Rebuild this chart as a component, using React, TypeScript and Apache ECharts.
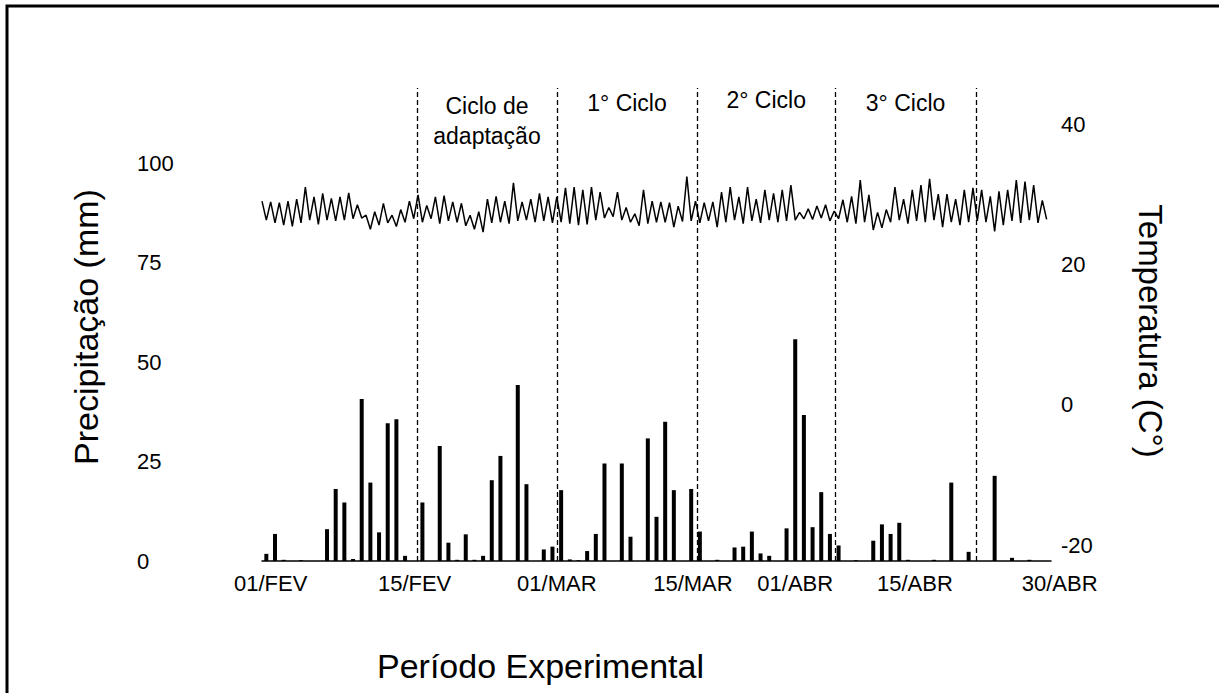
import React, { useEffect, useRef } from "react";
import * as echarts from "echarts";

// ---------- data ----------
// daily precipitation (mm), 91 days from 01/FEV
const precipitation: number[] = [
  1.8, 6.8, 0.3, 0, 0.2, 0, 0, 8.0, 18.1, 14.7,
  0.5, 40.7, 19.7, 7.2, 34.6, 35.6, 1.3, 0, 14.7, 0,
  28.9, 4.6, 0.3, 6.7, 0.3, 1.3, 20.3, 26.4, 0, 44.2,
  19.3, 0, 2.9, 3.6, 17.8, 0.4, 0.2, 2.5, 6.8, 24.5,
  0, 24.5, 6.1, 0, 30.8, 11.1, 35.0, 17.8, 0, 18.1,
  7.4, 0, 0.3, 0, 3.4, 3.6, 7.4, 1.9, 1.3, 0,
  8.2, 55.7, 36.7, 8.5, 17.3, 6.8, 3.9, 0, 0.2, 0,
  5.1, 9.2, 6.8, 9.6, 0.3, 0, 0, 0.3, 0, 19.7,
  0, 2.3, 0, 0, 21.4, 0, 0.8, 0, 0.3, 0,
  0,
];

// daily maximum and minimum temperature (°C)
const tempMax: number[] = [
  29.0, 28.9, 28.8, 29.0,
  29.3, 31.0, 29.6, 30.1, 29.4, 29.6, 30.2, 28.5,
  27.0, 27.5, 28.7, 27.0, 27.8, 29.0,
  29.9, 28.4, 29.6, 29.8, 28.9, 28.7, 27.0, 27.5, 29.3, 29.7, 29.0, 31.6, 28.9, 29.3, 30.1, 29.6,
  29.6, 30.9, 31.0, 30.6, 31.0, 30.3, 28.1, 30.3, 28.1, 27.2, 30.6, 29.0,
  28.9, 28.8, 28.3, 32.5, 29.0, 28.8, 28.9, 30.3, 31.0, 29.6, 31.0, 29.3, 30.6, 30.1, 30.6,
  31.3, 27.4, 27.9, 28.3, 28.5, 27.6, 29.2, 29.7, 32.0, 29.9, 27.4, 27.8, 31.0, 29.3, 30.6,
  31.3, 32.2, 30.0, 30.0, 29.3, 30.6, 30.9, 30.6, 29.7, 30.4, 30.6, 32.0, 31.8, 31.3, 29.1,
];
const tempMin: number[] = [
  26.3, 25.9, 25.6, 25.4,
  25.9, 26.3, 25.7, 26.3, 26.2, 26.3, 26.5, 26.6,
  25.0, 25.6, 25.9, 25.4, 26.0, 26.5,
  26.0, 26.5, 25.8, 26.2, 26.0, 25.5, 25.0, 24.6, 25.9, 26.0, 25.8, 26.2, 26.3, 26.0, 26.2, 25.9,
  26.0, 25.8, 25.6, 25.7, 26.3, 26.6, 26.8, 26.3, 26.0, 25.5, 25.8, 26.0,
  26.0, 25.3, 26.1, 26.2, 25.9, 26.2, 25.3, 26.0, 26.3, 25.8, 26.2, 25.9, 26.3, 26.0, 26.2,
  26.3, 26.5, 26.4, 26.6, 26.2, 26.5, 26.0, 25.8, 26.0, 24.9, 25.2, 26.0, 26.3, 25.8, 26.2,
  26.0, 26.3, 25.3, 26.0, 25.6, 26.0, 26.2, 26.0, 24.7, 25.6, 26.2, 25.9, 26.3, 25.9, 26.4,
];

// date tick labels and where they sit (in day units along the axis)
const dateLabels: string[] = ["01/FEV", "15/FEV", "01/MAR", "15/MAR", "01/ABR", "15/ABR", "30/ABR"];
const dateLabelPos: number[] = [1.0, 17.6, 34.0, 49.7, 61.5, 75.3, 92.0];

// experimental cycles and their boundaries (day units)
const cycleNames: string[] = ["Ciclo de\nadaptação", "1° Ciclo", "2° Ciclo", "3° Ciclo"];
const cycleBounds: number[] = [17.9, 34.0, 50.2, 66.1, 82.35];

const precipTicks = { min: 0, max: 100, interval: 25 };
const tempTicks = { min: -20, max: 40, interval: 20 };

// ---------- layout ----------
const W = 1219;
const H = 693;
const AX_LEFT = 262;
const AX_RIGHT = 1051;
const AX_BOTTOM = 561;
const N_DAYS = precipitation.length;
const DAY_PX = (AX_RIGHT - AX_LEFT) / N_DAYS;
const OV_RIGHT = 1095;
const OV_MAX = (OV_RIGHT - AX_LEFT) / DAY_PX;
const CYCLE_LABEL_DY = [3, 0, -3, 0];
const FONT = '"Liberation Sans", Arial, Helvetica, sans-serif';

export default function App() {
  const ref = useRef<HTMLDivElement>(null);

  useEffect(() => {
    document.body.style.margin = "0";
    if (!ref.current) return;
    const chart = echarts.init(ref.current, null, { renderer: "svg" });

    const days = precipitation.map((_, i) => String(i + 1));
    const tempPoints: [number, number][] = [];
    tempMax.forEach((mx, i) => {
      tempPoints.push([i, mx]);
      tempPoints.push([i + 0.5, tempMin[i]]);
    });

    const option: any = {
      animation: false,
      backgroundColor: "#fff",
      textStyle: { fontFamily: FONT, color: "#000" },
      title: {
        text: "Período Experimental",
        left: 372,
        top: 644,
        textStyle: { fontFamily: FONT, fontSize: 34, fontWeight: "normal", color: "#000" },
      },
      grid: [
        { left: AX_LEFT, right: W - AX_RIGHT, top: 163, bottom: H - AX_BOTTOM },
        { left: AX_LEFT, right: W - AX_RIGHT, top: 124, bottom: 148 },
        { left: AX_LEFT, right: W - OV_RIGHT, top: 88, bottom: H - AX_BOTTOM },
      ],
      xAxis: [
        {
          type: "category",
          gridIndex: 0,
          data: days,
          axisLine: { lineStyle: { color: "#000", width: 1.5 } },
          axisTick: { show: false },
          axisLabel: { show: false },
          splitLine: { show: false },
        },
        { type: "value", gridIndex: 1, min: 0, max: N_DAYS, show: false },
        {
          type: "value",
          gridIndex: 2,
          min: 0,
          max: OV_MAX,
          axisLine: { show: false },
          axisTick: { show: false },
          splitLine: { show: false },
          axisLabel: {
            customValues: dateLabelPos,
            formatter: (v: number) => {
              const k = dateLabelPos.indexOf(v);
              return k >= 0 ? dateLabels[k] : "";
            },
            fontFamily: FONT,
            fontSize: 22,
            color: "#000",
            margin: 11,
          },
        },
      ],
      yAxis: [
        {
          type: "value",
          gridIndex: 0,
          ...precipTicks,
          axisLine: { show: false },
          axisTick: { show: false },
          splitLine: { show: false },
          axisLabel: { align: "left", margin: 125, fontFamily: FONT, fontSize: 22, color: "#000" },
        },
        {
          type: "value",
          gridIndex: 1,
          position: "right",
          ...tempTicks,
          axisLine: { show: false },
          axisTick: { show: false },
          splitLine: { show: false },
          axisLabel: { margin: 10, fontFamily: FONT, fontSize: 22, color: "#000" },
        },
        { type: "value", gridIndex: 2, min: 0, max: 1, show: false },
      ],
      series: [
        {
          type: "bar",
          xAxisIndex: 0,
          yAxisIndex: 0,
          data: precipitation,
          barWidth: 4,
          itemStyle: { color: "#000" },
        },
        {
          type: "line",
          xAxisIndex: 1,
          yAxisIndex: 1,
          data: tempPoints,
          showSymbol: false,
          lineStyle: { color: "#000", width: 1.5 },
        },
        {
          type: "line",
          xAxisIndex: 2,
          yAxisIndex: 2,
          data: [],
          markLine: {
            silent: true,
            symbol: ["none", "none"],
            label: { show: false },
            lineStyle: { color: "#000", type: [5, 3], width: 1.3 },
            data: cycleBounds.map((b) => ({ xAxis: b })),
          },
          markArea: {
            silent: true,
            itemStyle: { color: "rgba(0,0,0,0)" },
            label: {
              position: "insideTop",
              distance: 0,
              color: "#000",
              fontFamily: FONT,
              fontSize: 23,
              lineHeight: 30,
            },
            data: cycleNames.map((name, i) => [
              { name, xAxis: cycleBounds[i], label: { offset: [0, CYCLE_LABEL_DY[i]] } },
              { xAxis: cycleBounds[i + 1] },
            ]),
          },
        },
      ],
      graphic: [
        {
          type: "rect",
          shape: { x: 7, y: 6, width: 1300, height: 800 },
          style: { fill: "none", stroke: "#000", lineWidth: 3 },
          silent: true,
        },
        {
          type: "text",
          x: 86,
          y: 327,
          rotation: Math.PI / 2,
          style: {
            text: "Precipitação (mm)",
            fontFamily: FONT,
            fontSize: 34,
            fill: "#000",
            textAlign: "center",
            textVerticalAlign: "middle",
          },
        },
        {
          type: "text",
          x: 1150,
          y: 331,
          rotation: -Math.PI / 2,
          style: {
            text: "Temperatura (C°)",
            fontFamily: FONT,
            fontSize: 33,
            fill: "#000",
            textAlign: "center",
            textVerticalAlign: "middle",
          },
        },
      ],
    };

    chart.setOption(option);
    return () => chart.dispose();
  }, []);

  return <div ref={ref} style={{ width: W, height: H }} />;
}
